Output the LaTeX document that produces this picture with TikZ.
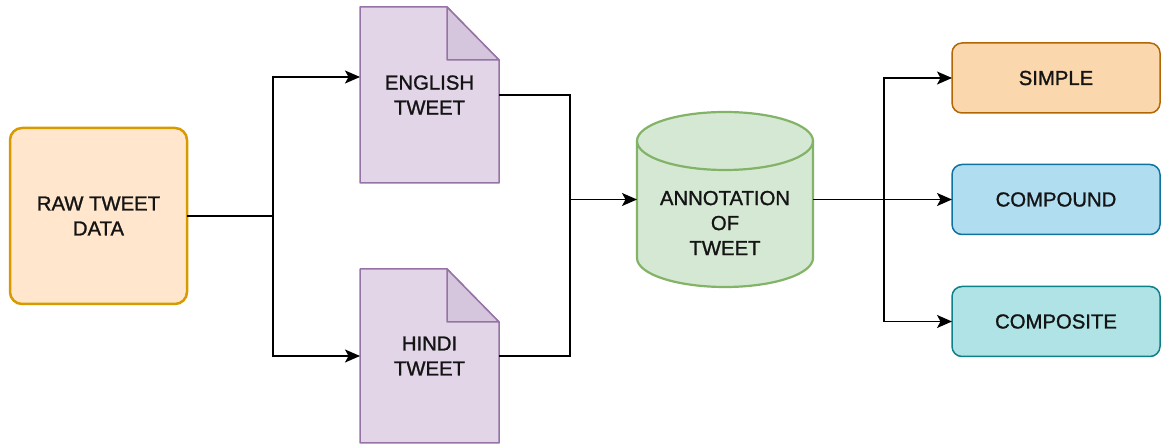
\documentclass[tikz,border=0pt]{standalone}
\usepackage{fontspec}
\setmainfont{Liberation Sans}
\newfontfamily\lblfont{Liberation Sans}[FakeBold=1.2]
\usetikzlibrary{arrows.meta,calc,backgrounds}
\definecolor{rawF}{HTML}{FFE6CC}
\definecolor{rawS}{HTML}{D79B00}
\definecolor{docF}{HTML}{E1D5E7}
\definecolor{docS}{HTML}{9673A6}
\definecolor{foldF}{HTML}{D5C5DD}
\definecolor{cylF}{HTML}{D5E8D4}
\definecolor{cylS}{HTML}{82B366}
\definecolor{simF}{HTML}{FAD7AC}
\definecolor{simS}{HTML}{B46504}
\definecolor{cpdF}{HTML}{B1DDF0}
\definecolor{cpdS}{HTML}{10739E}
\definecolor{cpsF}{HTML}{B0E3E6}
\definecolor{cpsS}{HTML}{0E8088}
\definecolor{ink}{HTML}{141414}
\begin{document}
\begin{tikzpicture}[x=1pt,y=1pt,
  lbl/.style={font=\lblfont\fontsize{20.3}{25}\selectfont, align=center, text=ink},
  docbox/.style={lbl, outer sep=0pt, minimum width=139pt},
  catbox/.style={lbl, outer sep=0pt, rounded corners=10pt, line width=1.5pt,
    minimum width=208pt, minimum height=70pt},
  link/.style={line width=1.4pt, draw=black},
  arr/.style={link, -{Stealth[length=15pt,width=13pt,inset=3.5pt]}},
]
\useasboundingbox (0,0) rectangle (1161,444);

% source data
\node[lbl, draw=rawS, fill=rawF, line width=2.5pt, rounded corners=12pt,
  outer sep=0pt, minimum width=177pt, minimum height=176pt] (raw) at (98.5,228) {RAW TWEET\\DATA};

% language split documents
\node[docbox, minimum height=176pt] (eng) at (429.5,349) {ENGLISH\\TWEET};
\node[docbox, minimum height=174pt] (hin) at (429.5,88) {HINDI\\TWEET};

% annotation store
\node[outer sep=0pt, minimum width=176pt, minimum height=175pt] (ann) at (725,244.5) {};
\node[lbl] (annlbl) at ($(ann.center)+(0,-23.5)$) {ANNOTATION\\OF\\TWEET};

% categories
\node[catbox, draw=simS, fill=simF] (simple) at (1056,366) {SIMPLE};
\node[catbox, draw=cpdS, fill=cpdF] (compound) at (1056,244.5) {COMPOUND};
\node[catbox, draw=cpsS, fill=cpsF] (composite) at (1056,122.5) {COMPOSITE};

\begin{scope}[on background layer]
  % folded-corner documents
  \foreach \d in {eng,hin}{
    \draw[docS, fill=docF, line width=1.5pt, line join=round]
      (\d.south west) -- (\d.north west) -- ($(\d.north east)+(-52,0)$)
      -- ($(\d.north east)+(0,-53)$) -- (\d.south east) -- cycle;
    \draw[docS, fill=foldF, line width=1.5pt, line join=round]
      ($(\d.north east)+(-52,0)$) -- ($(\d.north east)+(-52,-53)$)
      -- ($(\d.north east)+(0,-53)$) -- cycle;
  }
  % cylinder
  \fill[cylF] ($(ann.north west)+(0,-29)$) -- ($(ann.south west)+(0,29)$)
    arc[start angle=180, end angle=360, x radius=88pt, y radius=29pt]
    -- ($(ann.north east)+(0,-29)$)
    arc[start angle=0, end angle=180, x radius=88pt, y radius=29pt] -- cycle;
  \draw[cylS, line width=2.2pt] ($(ann.north west)+(0,-29)$) -- ($(ann.south west)+(0,29)$)
    arc[start angle=180, end angle=360, x radius=88pt, y radius=29pt]
    -- ($(ann.north east)+(0,-29)$);
  \draw[cylS, line width=2.2pt] ($(ann.north)+(0,-29)$) ellipse[x radius=88pt, y radius=29pt];
\end{scope}

% connectors
\coordinate (split1) at (273,228);
\coordinate (join) at (570,244.5);
\coordinate (split2) at (884,244.5);
\draw[link] (raw.east) -- (split1);
\draw[arr] (split1) |- ($(eng.west)+(0,18)$);
\draw[arr] (split1) |- (hin.west);
\draw[link] (eng.east) -| (join);
\draw[link] (hin.east) -| (join);
\draw[arr] (join) -- (ann.west);
\draw[link] (ann.east) -- (split2);
\draw[arr] (split2) |- (simple.west);
\draw[arr] (split2) -- (compound.west);
\draw[arr] (split2) |- (composite.west);
\end{tikzpicture}
\end{document}
